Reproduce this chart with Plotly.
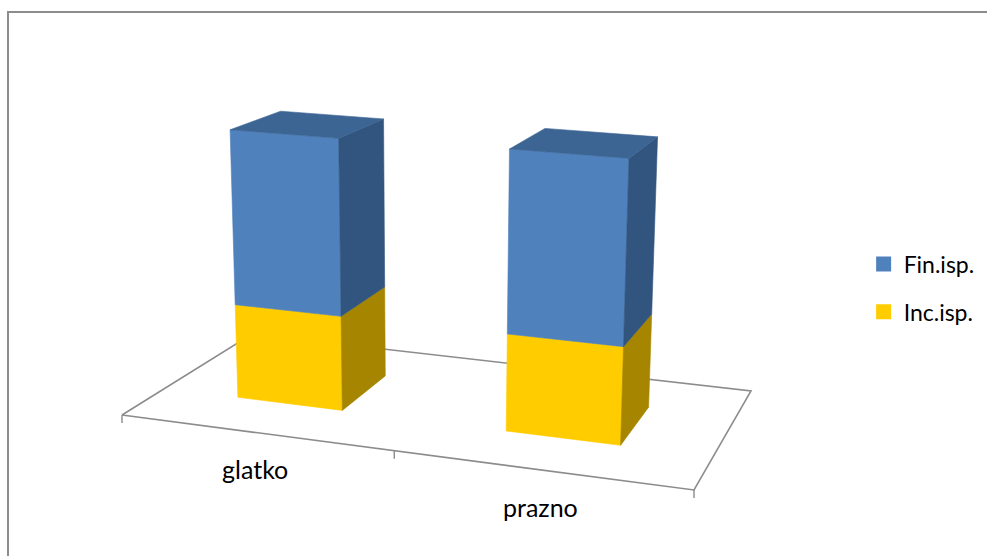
import numpy as np
import plotly.graph_objects as go

# ---------------- data ----------------
categories = ["glatko", "prazno"]
inc_isp = [35.5, 35.7]     # lower (yellow) segment
fin_isp = [64.5, 65.3]     # upper (blue) segment
series_names = ["Inc.isp.", "Fin.isp."]

# ---------------- styles ----------------
COLORS = {
    "Inc.isp.": {"front": "#FFCC00", "side": "#A68600", "top": "#C9A200"},
    "Fin.isp.": {"front": "#4F81BD", "side": "#32557F", "top": "#3D6593"},
}
FLOOR_COLOR = "#8C8C8C"
FONT = "Lato"
W, H = 987, 556

# 3D -> screen projection (world: X = category axis, Y = depth, Z = value)
P = np.array([
    [254.225, 169.50, -0.17312, 122.0],
    [15.065, -28.65, -2.8182, 415.0],
    [-0.045785, 0.15675, -0.0004026, 1.0],
])


def proj(X, Y, Z):
    v = P @ np.array([X, Y, Z, 1.0])
    return v[0] / v[2], v[1] / v[2]


def poly(pts):
    xs, ys = zip(*[proj(*p) for p in pts])
    return list(xs) + [xs[0]], list(ys) + [ys[0]]


BAR_LO, BAR_HI = 0.2875, 0.6875   # bar extent within a category slot
DEP_LO, DEP_HI = 0.3, 0.7         # bar extent in depth

fig = go.Figure()

# floor outline
n = len(categories)
fx, fy = poly([(0, 0, 0), (n, 0, 0), (n, 1, 0), (0, 1, 0)])
fig.add_trace(go.Scatter(x=fx, y=fy, mode="lines", line=dict(color=FLOOR_COLOR, width=1.6),
                         hoverinfo="skip", showlegend=False))
# tick marks on front edge
for k in range(n + 1):
    tx, ty = proj(k, 0, 0)
    fig.add_trace(go.Scatter(x=[tx, tx], y=[ty, ty + 8], mode="lines",
                             line=dict(color=FLOOR_COLOR, width=1.4),
                             hoverinfo="skip", showlegend=False))


def add_face(pts, color):
    xs, ys = poly(pts)
    fig.add_trace(go.Scatter(x=xs, y=ys, mode="lines", fill="toself", fillcolor=color,
                             line=dict(color=color, width=0.6),
                             hoverinfo="skip", showlegend=False))


# bars
for i, cat in enumerate(categories):
    x0, x1 = i + BAR_LO, i + BAR_HI
    base = 0.0
    for name, vals in zip(series_names, [inc_isp, fin_isp]):
        z0, z1 = base, base + vals[i]
        c = COLORS[name]
        add_face([(x0, DEP_LO, z0), (x1, DEP_LO, z0), (x1, DEP_LO, z1), (x0, DEP_LO, z1)], c["front"])
        add_face([(x1, DEP_LO, z0), (x1, DEP_HI, z0), (x1, DEP_HI, z1), (x1, DEP_LO, z1)], c["side"])
        if name == series_names[-1]:
            add_face([(x0, DEP_LO, z1), (x1, DEP_LO, z1), (x1, DEP_HI, z1), (x0, DEP_HI, z1)], c["top"])
        base = z1

# category labels
for i, cat in enumerate(categories):
    lx, ly = proj(i + 0.5, 0, 0)
    fig.add_annotation(x=lx, y=ly, text=cat, showarrow=False, xref="x", yref="y",
                       yshift=-37, xanchor="center", yanchor="middle",
                       font=dict(family=FONT, size=25, color="#000000"))

# legend entries (Fin.isp. above Inc.isp.)
for name in ["Fin.isp.", "Inc.isp."]:
    fig.add_trace(go.Scatter(x=[None], y=[None], mode="markers", name=name, legendgroup=name,
                             marker=dict(symbol="square", size=15, color=COLORS[name]["front"])))

fig.update_layout(
    width=W, height=H,
    margin=dict(l=0, r=0, t=0, b=0),
    paper_bgcolor="white", plot_bgcolor="white",
    xaxis=dict(range=[0, W], visible=False, fixedrange=True),
    yaxis=dict(range=[H, 0], visible=False, fixedrange=True),
    showlegend=True,
    legend=dict(x=0.875, y=1 - 288 / H, xanchor="left", yanchor="middle",
                font=dict(family=FONT, size=23, color="#000000"),
                tracegroupgap=15, traceorder="grouped", bgcolor="rgba(0,0,0,0)"),
    shapes=[dict(type="rect", xref="paper", yref="paper", x0=8 / W, x1=1.02, y0=-0.05, y1=1 - 12 / H,
                 line=dict(color="#8C8C8C", width=2), fillcolor="rgba(0,0,0,0)", layer="above")],
)

fig.write_html("out.html", config={"displayModeBar": False},
               post_script="document.body.style.margin='0';document.body.style.overflow='hidden';")
